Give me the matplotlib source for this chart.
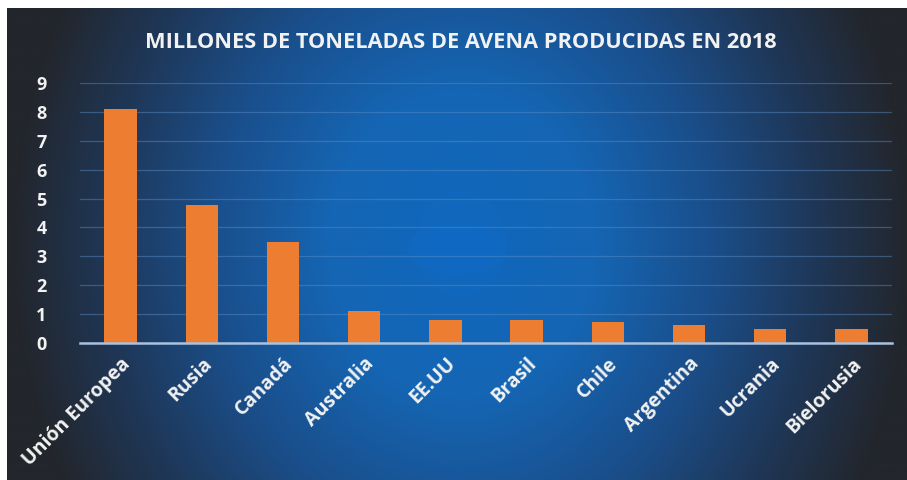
import numpy as np
import matplotlib
matplotlib.use("Agg")
import matplotlib.pyplot as plt
from matplotlib.colors import LinearSegmentedColormap

# Oat production 2018 (millions of tonnes)
paises = ["Unión Europea", "Rusia", "Canadá", "Australia", "EE.UU",
          "Brasil", "Chile", "Argentina", "Ucrania", "Bielorusia"]
produccion = [8.1, 4.78, 3.5, 1.1, 0.78, 0.78, 0.71, 0.6, 0.49, 0.49]
yticks = list(range(0, 10))
titulo = "MILLONES DE TONELADAS DE AVENA PRODUCIDAS EN 2018"

W, H, DPI = 907, 480, 100
fig = plt.figure(figsize=(W / DPI, H / DPI), dpi=DPI)
fig.patch.set_facecolor("white")

# Radial blue background panel (white margin at top and left)
bx0, by0 = 7 / W, 0.0
bw, bh = (W - 7) / W, (H - 8) / H
bg = fig.add_axes([bx0, by0, bw, bh])
bg.set_axis_off()
nx, ny = 600, 320
xx, yy = np.meshgrid(np.linspace(-1, 1, nx), np.linspace(-1, 1, ny))
cx, cy = 0.01, 0.0
r = np.sqrt(((xx - cx) / 1.0) ** 2 + ((yy - cy) / 2.2) ** 2)
r = np.clip(r, 0, 1)
cmap = LinearSegmentedColormap.from_list(
    "bgrad",
    [(0.0, "#1068bf"), (0.3, "#1565b3"), (0.55, "#1a4f8c"),
     (0.8, "#1f3655"), (1.0, "#23262c")])
bg.imshow(r, cmap=cmap, vmin=0, vmax=1, extent=[0, 1, 0, 1],
          aspect="auto", interpolation="bicubic")
# faint round highlight in the middle
circ = plt.Circle((0.5, 0.49), 0.055, transform=bg.transAxes,
                  color="#0f6ccb", alpha=0.35, lw=0, zorder=2)
bg.add_patch(circ)
bg.set_xlim(0, 1)
bg.set_ylim(0, 1)

# Plot area
left, right = 80 / W, 892 / W
bottom, top = 1 - 342.7 / H, 1 - 83.3 / H
ax = fig.add_axes([left, bottom, right - left, top - bottom])
ax.patch.set_alpha(0)

x = np.arange(len(paises))
ax.bar(x, produccion, width=0.4, color="#ed7d31", zorder=3)
ax.set_xlim(-0.5, len(paises) - 0.5)
ax.set_ylim(0, 9)
ax.set_yticks(yticks)
ax.grid(axis="y", color="#5d8fc9", alpha=0.45, lw=0.9, zorder=1)
ax.set_axisbelow(True)

for s in ["top", "right", "left"]:
    ax.spines[s].set_visible(False)
ax.spines["bottom"].set_color("#a9c2e0")
ax.spines["bottom"].set_linewidth(1.8)
ax.spines["bottom"].set_zorder(4)

font = "Open Sans"
ax.tick_params(axis="both", length=0, colors="white")
ax.set_yticklabels([str(v) for v in yticks], fontsize=13, fontweight="bold",
                   family=font, color="#f2f2f2")
ax.tick_params(axis="y", pad=24)
ax.set_xticks(x)
ax.set_xticklabels(paises, rotation=45, ha="right", va="top",
                   rotation_mode="anchor", fontsize=14, fontweight="bold",
                   family=font, color="#f2f2f2")
ax.tick_params(axis="x", pad=8)

fig.text(461 / W, 1 - 42 / H, titulo, ha="center", va="center",
         fontsize=15.7, fontweight="bold", family=font, color="#f2f2f2")

fig.savefig("out.png", dpi=DPI, facecolor=fig.get_facecolor())
